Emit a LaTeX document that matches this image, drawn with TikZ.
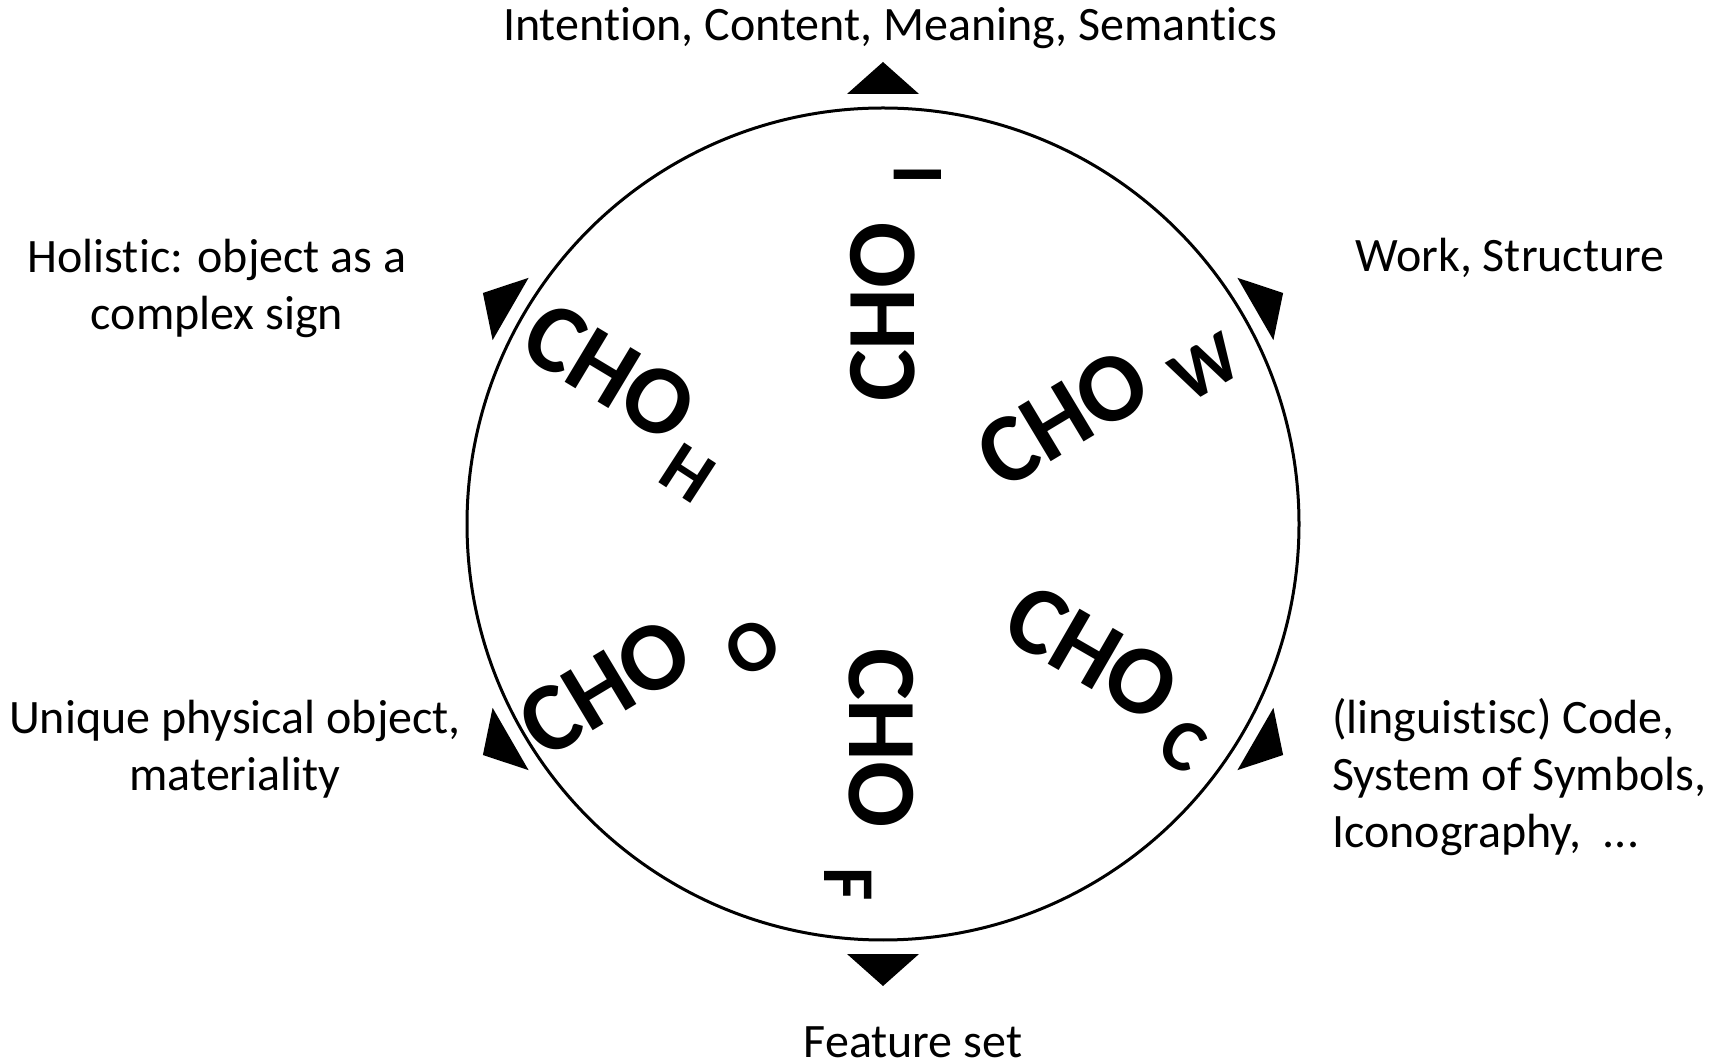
\documentclass[tikz,border=0pt]{standalone}
\usepackage{fontspec}
\setmainfont{Carlito}[Ligatures={NoCommon,NoContextual}]
\begin{document}
\begin{tikzpicture}[x=1pt,y=1pt,
  lbl/.style={font=\fontsize{48}{57}\selectfont, inner sep=0pt, align=center},
  lblleft/.style={font=\fontsize{48}{57}\selectfont, inner sep=0pt, align=left},
  cho/.style={font=\fontsize{98}{110}\selectfont\bfseries, inner sep=0pt},
  sub/.style={font=\fontsize{73}{80}\selectfont\bfseries, inner sep=0pt},
  tri/.style={fill=black}]
\useasboundingbox (0,0) rectangle (1721,1063);
\coordinate (ctr) at (883,539);
\node[draw, circle, line width=3pt, minimum size=832pt, inner sep=0pt] (ring) at (ctr) {};
% outward triangles
\foreach \a in {30,90,150,210,270,330}{
  \begin{scope}[shift={(ctr)}, rotate=\a]
    \fill[tri] (462,0) -- (430,36) -- (430,-36) -- cycle;
  \end{scope}
}
% outer labels (base = baseline of the last line)
\node[lbl, anchor=base] (top) at (890,1022) {Intention, Content, Meaning, Semantics};
\node[lbl, anchor=base] (work) at (1510,791) {Work, Structure};
\node[lbl, anchor=base] (hol) at (217,733) {Holistic: object as a\\complex sign};
\node[lbl, anchor=base] (uni) at (235,272) {Unique physical object,\\materiality};
\node[lblleft, anchor=base west] (code) at (1332,215) {(linguistisc) Code,\\System of Symbols,\\Iconography,\ \ ...};
\node[lbl, anchor=base] (feat) at (913,6) {Feature set};
% CHO labels
\node[cho, rotate=90] (choI) at (883,751) {CHO};
\node[sub, rotate=90] (subI) at (918,888) {I};
\node[cho, rotate=-31] (choH) at (610,691) {CHO};
\node[sub, rotate=-33] (subH) at (688,590) {H};
\node[cho, rotate=31] (choW) at (1063,645) {CHO};
\node[sub, rotate=30] (subW) at (1205,696) {W};
\node[cho, rotate=-30] (choC) at (1092,410) {CHO};
\node[sub, rotate=-30] (subC) at (1183,317) {C};
\node[cho, rotate=31] (choO) at (605,376) {CHO};
\node[sub, rotate=31] (subO) at (752,416) {O};
\node[cho, rotate=-90] (choF) at (881,325) {CHO};
\node[sub, rotate=-90] (subF) at (848,179) {F};
\end{tikzpicture}
\end{document}
